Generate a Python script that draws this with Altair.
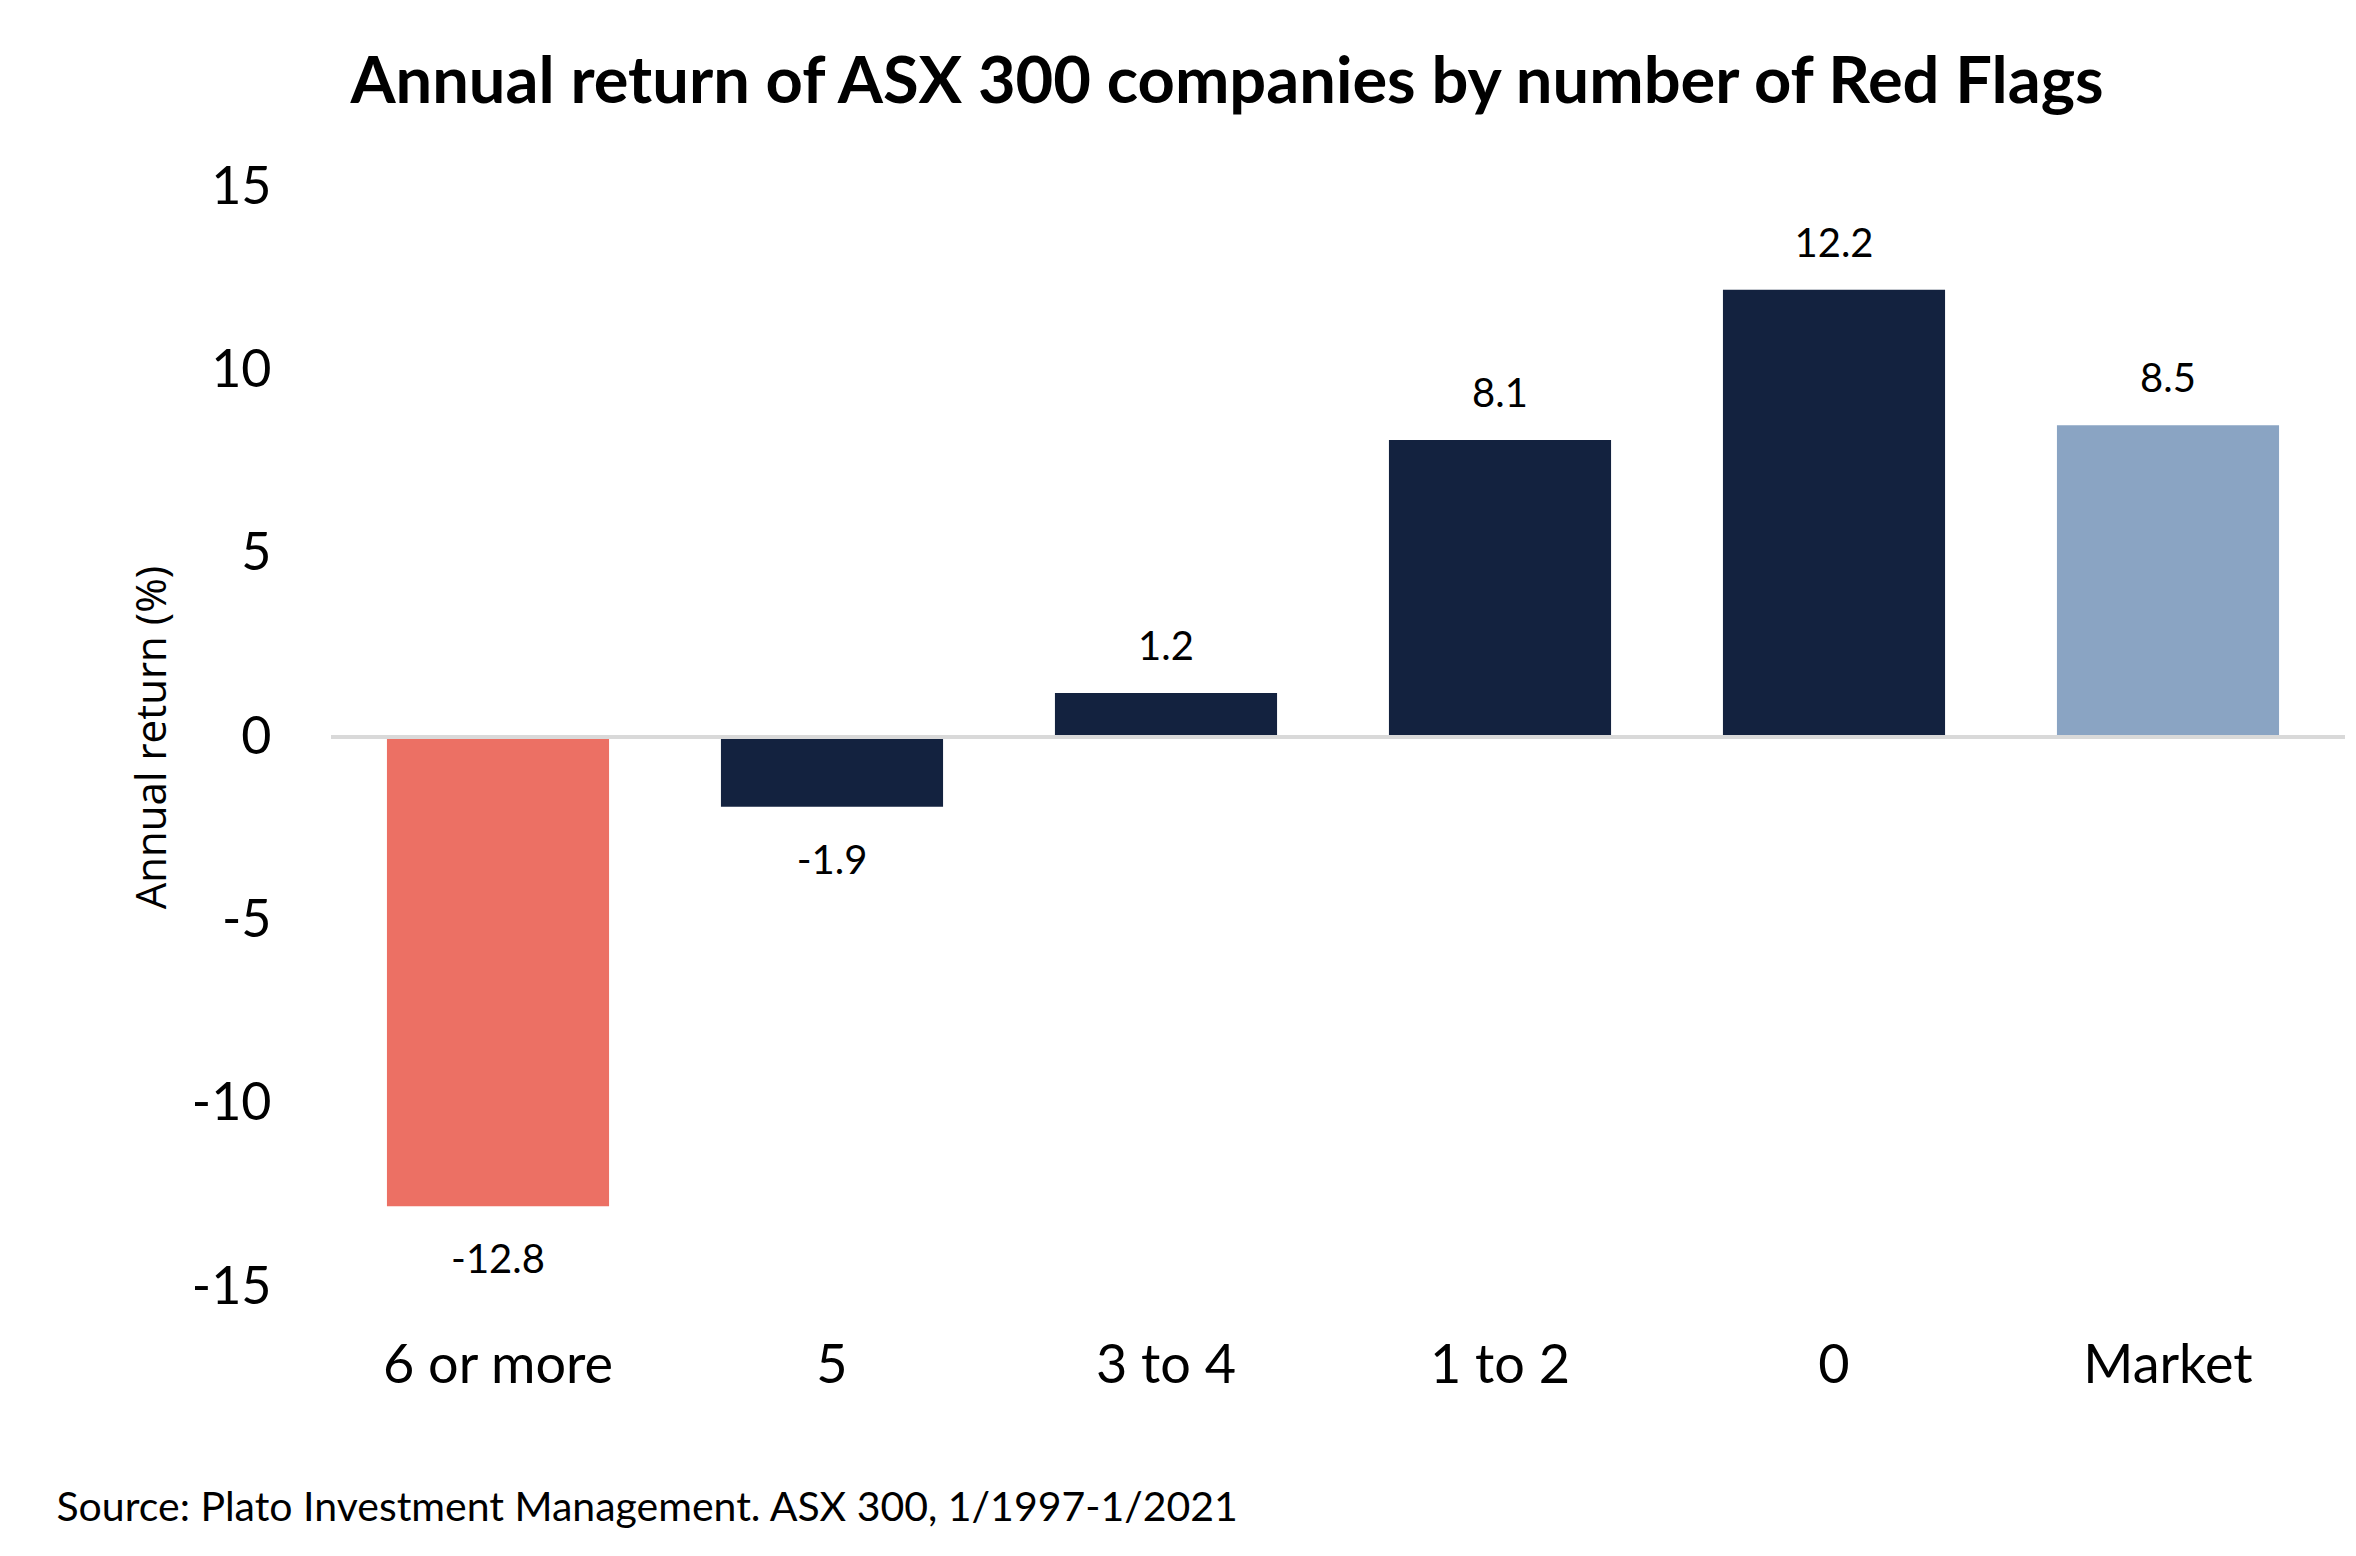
import altair as alt
import pandas as pd

categories = ["6 or more", "5", "3 to 4", "1 to 2", "0", "Market"]
returns = [-12.8, -1.9, 1.2, 8.1, 12.2, 8.5]
y_ticks = [-15, -10, -5, 0, 5, 10, 15]
bar_colors = ["#EC7064", "#13223F", "#13223F", "#13223F", "#13223F", "#8AA4C3"]

title_text = "Annual return of ASX 300 companies by number of Red Flags"
y_title = "Annual return (%)"
source_text = "Source: Plato Investment Management. ASX 300, 1/1997-1/2021"

df = pd.DataFrame({
    "category": categories,
    "value": returns,
    "label": [f"{v:.1f}" for v in returns],
})

W, H = 2004, 1100
FONT = "Lato"

x_enc = alt.X(
    "category:N",
    sort=categories,
    scale=alt.Scale(paddingInner=0.335, paddingOuter=0.1675),
    axis=alt.Axis(
        title=source_text,
        labelAngle=0,
        labelFont=FONT,
        labelFontSize=54,
        labelColor="#000000",
        labelPadding=52,
        labelLimit=1000,
        ticks=False,
        tickSize=0,
        domain=False,
        titleFont=FONT,
        titleFontSize=41,
        titleFontWeight="normal",
        titleColor="#000000",
        titleAlign="left",
        titleAnchor="start",
        titleBaseline="alphabetic",
        titleX=-275,
        titleY=233,
        titleLimit=3000,
    ),
)

y_scale = alt.Scale(domain=[-15, 15], nice=False, zero=True)

bars = alt.Chart(df).mark_bar().encode(
    x=x_enc,
    y=alt.Y(
        "value:Q",
        scale=y_scale,
        axis=alt.Axis(
            values=y_ticks,
            title=y_title,
            labelExpr="'' + datum.value",
            labelFont=FONT,
            labelFontSize=52,
            labelColor="#000000",
            labelPadding=60,
            ticks=False,
            tickSize=0,
            domain=False,
            grid=False,
            titleFont="Open Sans",
            titleFontSize=42,
            titleFontWeight="normal",
            titleColor="#000000",
            titleAngle=-90,
            titleAlign="center",
            titleBaseline="middle",
            titleX=-179,
            titleY=H / 2,
        ),
    ),
    color=alt.Color("category:N", scale=alt.Scale(domain=categories, range=bar_colors), legend=None),
)

zero_line = alt.Chart(pd.DataFrame({"zero": [0]})).mark_rule(color="#D9D9D9", strokeWidth=4).encode(
    y=alt.Y("zero:Q", scale=y_scale),
    x=alt.value(0),
    x2=alt.value(W + 13),
)

pos_labels = alt.Chart(df).transform_filter("datum.value >= 0").mark_text(
    font=FONT, fontSize=40, color="#000000", baseline="alphabetic", dy=-33
).encode(
    x=alt.X("category:N", sort=categories),
    y=alt.Y("value:Q", scale=y_scale),
    text="label:N",
)

neg_labels = alt.Chart(df).transform_filter("datum.value < 0").mark_text(
    font=FONT, fontSize=40, color="#000000", baseline="alphabetic", dy=67
).encode(
    x=alt.X("category:N", sort=categories),
    y=alt.Y("value:Q", scale=y_scale),
    text="label:N",
)

chart = alt.layer(bars, zero_line, pos_labels, neg_labels).properties(
    width=W,
    height=H,
    title=alt.TitleParams(
        text=title_text,
        font=FONT,
        fontSize=65,
        fontWeight="bold",
        color="#000000",
        anchor="middle",
        frame="group",
        baseline="alphabetic",
        dx=-106,
        dy=67,
        offset=60,
        limit=3000,
    ),
    autosize=alt.AutoSizeParams(type="none"),
    padding={"left": 323, "top": 179, "right": 10, "bottom": 250},
).configure(background="#FFFFFF").configure_view(stroke=None, strokeWidth=0)

chart.save("out.html", embed_options={"renderer": "svg", "actions": False})
